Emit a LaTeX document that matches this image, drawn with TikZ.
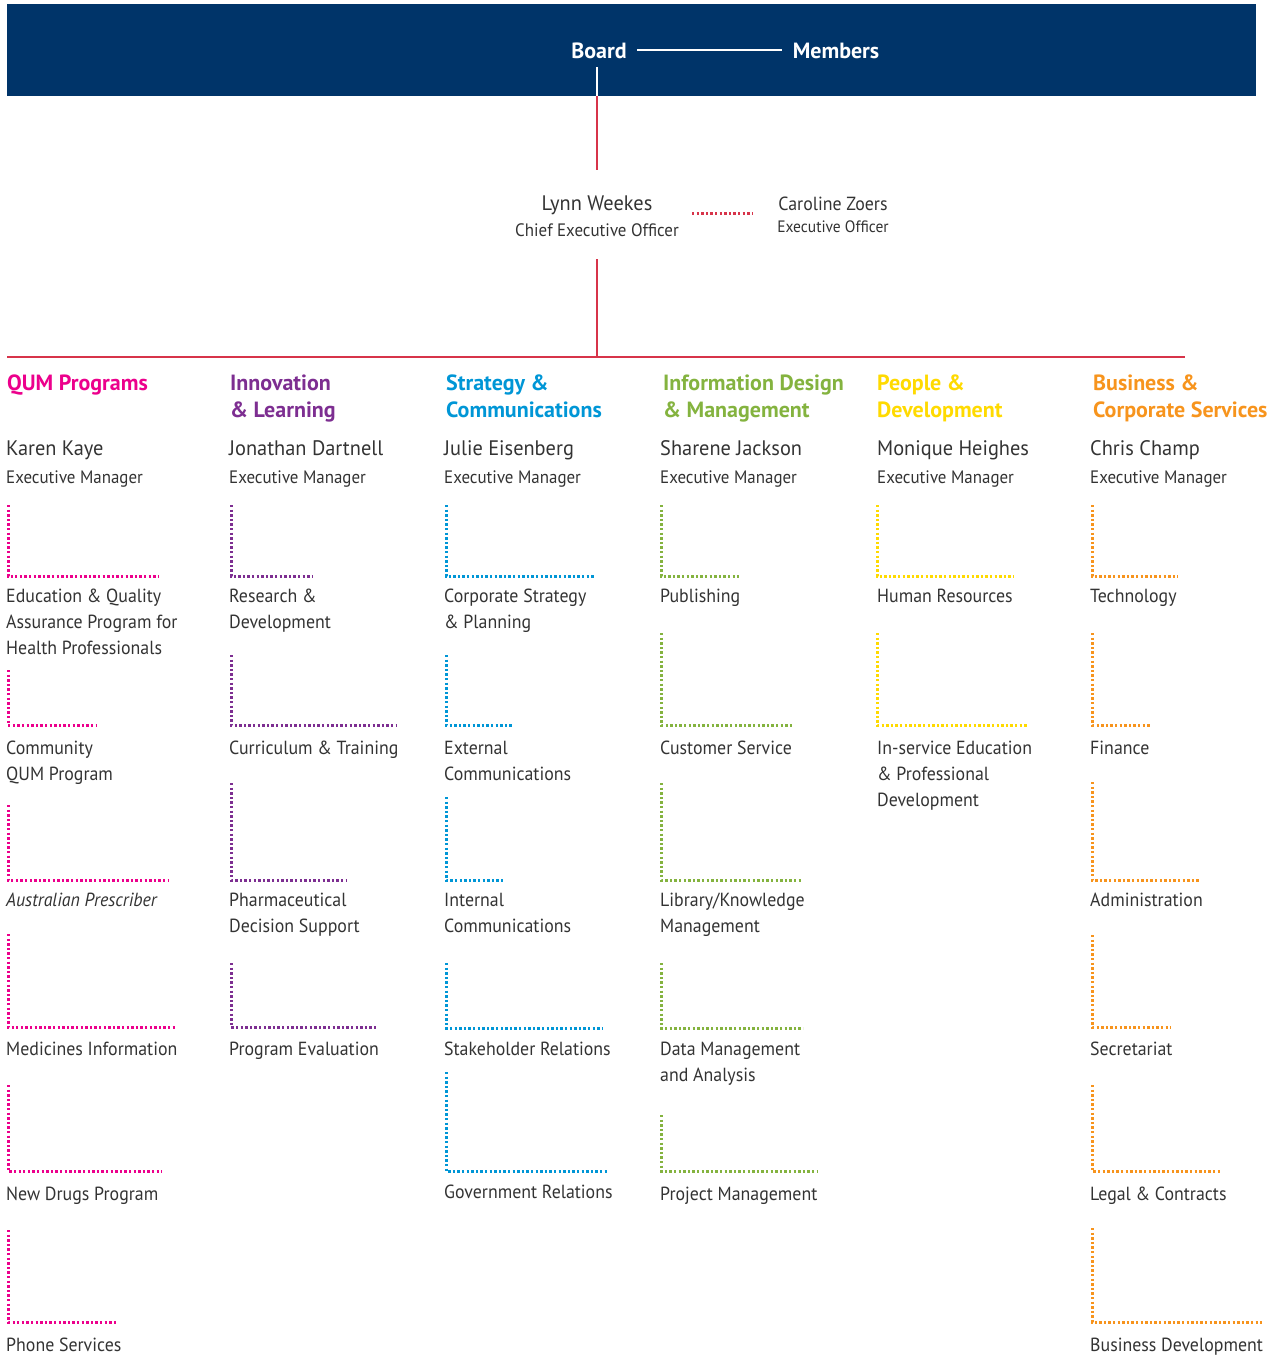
\documentclass[tikz,border=0pt]{standalone}
\usepackage{fontspec}
\setmainfont{PT Sans}[FakeStretch=0.94, BoldFeatures={FakeStretch=1.0}]
\newfontfamily\namefont{PT Sans}[FakeStretch=0.97]
\definecolor{navy}{HTML}{003469}
\definecolor{cred}{HTML}{D7344A}
\definecolor{cpink}{HTML}{EC008C}
\definecolor{cpurple}{HTML}{7D2E91}
\definecolor{cblue}{HTML}{0096D6}
\definecolor{cgreen}{HTML}{84B33F}
\definecolor{cyellow}{HTML}{FFDA00}
\definecolor{corange}{HTML}{F7941D}
\definecolor{txt}{HTML}{333333}
\begin{document}
\begin{tikzpicture}[x=1pt,y=-1pt,
  item/.style={anchor=base west, inner sep=0pt, align=left, text=txt, font=\fontsize{19}{26}\selectfont},
  head/.style={anchor=base west, inner sep=0pt, align=left, font=\bfseries\fontsize{22}{27}\selectfont},
  pname/.style={anchor=base west, inner sep=0pt, text=txt, font=\namefont\fontsize{21}{24}\selectfont},
  role/.style={anchor=base west, inner sep=0pt, text=txt, font=\fontsize{18}{24}\selectfont},
  dotl/.style={line width=3pt, dash pattern=on 2.3pt off 2.3pt},
  redline/.style={cred, line width=2pt},
  bannertxt/.style={anchor=base, inner sep=0pt, text=white, font=\bfseries\fontsize{22}{24}\selectfont}]
\useasboundingbox (0,0) rectangle (1280,1355);
% banner
\fill[navy] (7,4) rectangle (1256,96);
\node[bannertxt] (board) at (599,58) {Board};
\node[bannertxt] (members) at (836,58) {Members};
\coordinate (bl) at (637,50);
\coordinate (br) at (782,50);
\draw[white, line width=2pt] (bl) -- (br);
\coordinate (bboard) at (597,67);
\coordinate (bbottom) at (597,96);
\draw[white, line width=2pt] (bboard) -- (bbottom);
% CEO
\coordinate (ceotop) at (597,170);
\coordinate (ceobot) at (597,259);
\draw[redline] (bbottom) -- (ceotop);
\node[anchor=base, inner sep=0pt, text=txt, font=\namefont\fontsize{21}{24}\selectfont] (lynn) at (597,210) {Lynn Weekes};
\node[anchor=base, inner sep=0pt, text=txt, font=\fontsize{18}{24}\selectfont] (lynnrole) at (597,236) {Chief Executive Officer};
\node[anchor=base, inner sep=0pt, text=txt, font=\fontsize{19}{24}\selectfont] (caro) at (833,210) {Caroline Zoers};
\node[anchor=base, inner sep=0pt, text=txt, font=\fontsize{16.5}{24}\selectfont] (carorole) at (833,232) {Executive Officer};
\coordinate (dl) at (692,213);
\coordinate (dr) at (753,213);
\draw[cred, dotl] (dl) -- (dr);
% horizontal bus
\coordinate (busj) at (597,357);
\coordinate (busl) at (7,357);
\coordinate (busr) at (1185,357);
\draw[redline] (ceobot) -- (busj);
\draw[redline] (busl) -- (busr);
% headers
\node[head, text=cpink] (h1) at (7,390) {QUM Programs};
\node[head, text=cpurple] (h2) at (230,417) {Innovation\\\& Learning};
\node[head, text=cblue] (h3) at (446,417) {Strategy \&\\Communications};
\node[head, text=cgreen] (h4) at (663,417) {Information Design\\\& Management};
\node[head, text=cyellow] (h5) at (877,417) {People \&\\Development};
\node[head, text=corange] (h6) at (1093,417) {Business \&\\Corporate Services};
% names
\foreach \n/\x/\nm in {1/6/Karen Kaye,2/229/Jonathan Dartnell,3/444/Julie Eisenberg,4/660/Sharene Jackson,5/877/Monique Heighes,6/1090/Chris Champ}{
  \node[pname] (m\n) at (\x,455) {\nm};
  \node[role] (r\n) at (\x,483) {Executive Manager};
}
% units (baseline given is that of the last line)
\foreach \n/\col/\lx/\ty/\by/\ex/\tx/\bl/\lab in {
  p1/cpink/8/505/576/158/6/654/{Education \& Quality\\Assurance Program for\\Health Professionals},
  p2/cpink/8/670/725/97/6/780/{Community\\QUM Program},
  p3/cpink/8/805/880/168/6/906/{\itshape Australian Prescriber},
  p4/cpink/8/934/1027/177/6/1055/{Medicines Information},
  p5/cpink/8/1085/1171/162/6/1200/{New Drugs Program},
  p6/cpink/8/1230/1322/118/6/1351/{Phone Services},
  v1/cpurple/231/505/576/313/229/628/{Research \&\\Development},
  v2/cpurple/231/655/725/397/229/754/{Curriculum \& Training},
  v3/cpurple/231/783/880/347/229/932/{Pharmaceutical\\Decision Support},
  v4/cpurple/231/963/1027/377/229/1055/{Program Evaluation},
  b1/cblue/446/505/576/595/444/628/{Corporate Strategy\\\& Planning},
  b2/cblue/446/655/725/512/444/780/{External\\Communications},
  b3/cblue/446/797/880/503/444/932/{Internal\\Communications},
  b4/cblue/446/963/1028/603/444/1055/{Stakeholder Relations},
  b5/cblue/446/1072/1171/608/444/1198/{Government Relations},
  g1/cgreen/661/505/576/739/660/602/{Publishing},
  g2/cgreen/661/633/725/793/660/754/{Customer Service},
  g3/cgreen/661/783/880/803/660/932/{Library/Knowledge\\Management},
  g4/cgreen/661/963/1028/803/660/1081/{Data Management\\and Analysis},
  g5/cgreen/661/1115/1171/818/660/1200/{Project Management},
  y1/cyellow/877/505/576/1014/877/602/{Human Resources},
  y2/cyellow/877/633/725/1027/877/806/{In-service Education\\\& Professional\\Development},
  o1/corange/1092/505/576/1178/1090/602/{Technology},
  o2/corange/1092/633/725/1150/1090/754/{Finance},
  o3/corange/1092/782/880/1199/1090/906/{Administration},
  o4/corange/1092/935/1027/1171/1090/1055/{Secretariat},
  o5/corange/1092/1085/1171/1221/1090/1200/{Legal \& Contracts},
  o6/corange/1092/1228/1322/1262/1090/1351/{Business Development}}{
  \coordinate (\n-t) at (\lx,\ty);
  \coordinate (\n-e) at (\ex,\by);
  \node[item] (\n) at (\tx,\bl) {\lab};
  \draw[dotl,\col] (\n-t) |- (\n-e);
}
\end{tikzpicture}
\end{document}
